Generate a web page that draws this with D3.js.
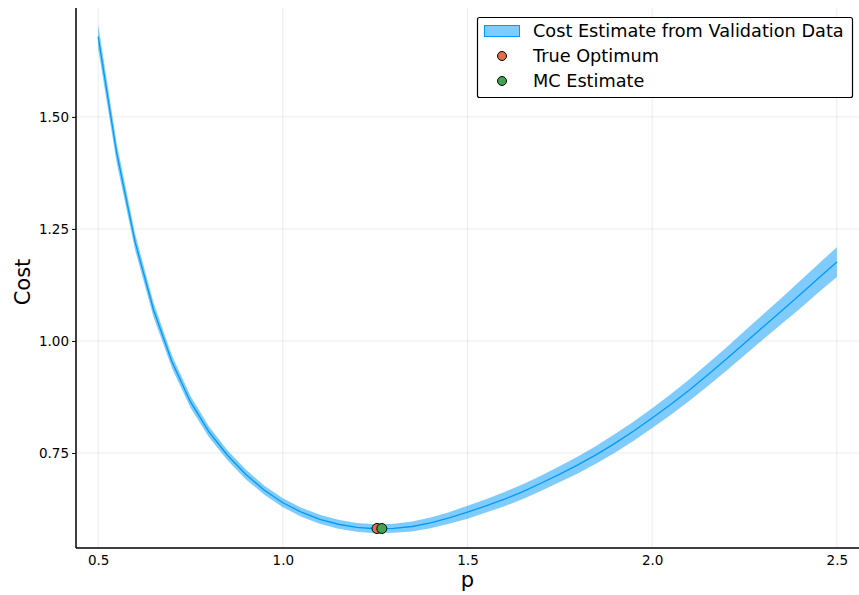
<!DOCTYPE html>
<html>
<head>
<meta charset="utf-8">
<script src="https://cdnjs.cloudflare.com/ajax/libs/d3/7.8.5/d3.min.js"></script>
<style>
    body { margin: 0; background: #fff; }
    svg { display: block; font-family: "DejaVu Sans", sans-serif; }
</style>
</head>
<body>
<script>
// sampled p values and estimated cost (mean) with half width of the band
var p_values = [0.50, 0.55, 0.60, 0.65, 0.70, 0.75, 0.80, 0.85, 0.90, 0.95,
    1.00, 1.05, 1.10, 1.15, 1.20, 1.25, 1.30, 1.35, 1.40, 1.45,
    1.50, 1.55, 1.60, 1.65, 1.70, 1.75, 1.80, 1.85, 1.90, 1.95,
    2.00, 2.05, 2.10, 2.15, 2.20, 2.25, 2.30, 2.35, 2.40, 2.45, 2.50];
var cost_mean = [1.679, 1.420, 1.221, 1.069, 0.953, 0.864, 0.797, 0.745, 0.702, 0.667,
    0.639, 0.618, 0.602, 0.591, 0.584, 0.581, 0.582, 0.586, 0.594, 0.605,
    0.618, 0.632, 0.647, 0.664, 0.683, 0.703, 0.724, 0.747, 0.772, 0.799,
    0.828, 0.858, 0.890, 0.924, 0.959, 0.995, 1.031, 1.067, 1.103, 1.140, 1.176];
var cost_halfwidth = [0.027, 0.022, 0.018, 0.016, 0.014, 0.013, 0.012, 0.011, 0.011, 0.010,
    0.010, 0.010, 0.010, 0.010, 0.010, 0.010, 0.010, 0.011, 0.012, 0.013,
    0.0145, 0.015, 0.016, 0.0165, 0.017, 0.018, 0.019, 0.020, 0.021, 0.0215,
    0.022, 0.023, 0.024, 0.025, 0.026, 0.027, 0.028, 0.029, 0.031, 0.032, 0.033];

var true_optimum = [1.255, 0.5815];
var mc_estimate = [1.268, 0.5815];

var x_ticks = [0.5, 1.0, 1.5, 2.0, 2.5];
var y_ticks = [0.75, 1.00, 1.25, 1.50];
var legend_labels = ["Cost Estimate from Validation Data", "True Optimum", "MC Estimate"];

(function () {
    var width = 859,
        height = 595;
    var left = 76, right = 859, top = 8, bottom = 548;

    var blue = "#009AFA",
        orange = "#E36F47",
        green = "#3EA44E";

    var svg = d3.select("body")
        .append("svg")
        .attr("width", width)
        .attr("height", height);

    var x = d3.scaleLinear().domain([0.44, 2.56]).range([left, right]);
    var y = d3.scaleLinear().domain([0.538, 1.743]).range([bottom, top]);

    var data = p_values.map(function (p, i) {
        return {p: p, m: cost_mean[i], h: cost_halfwidth[i]};
    });

    // grid
    svg.append("g")
        .selectAll("line")
        .data(x_ticks)
        .enter().append("line")
        .attr("x1", function (d) { return x(d); })
        .attr("x2", function (d) { return x(d); })
        .attr("y1", top)
        .attr("y2", bottom)
        .attr("stroke", "#000")
        .attr("stroke-opacity", 0.08)
        .attr("stroke-width", 1);

    svg.append("g")
        .selectAll("line")
        .data(y_ticks)
        .enter().append("line")
        .attr("x1", left)
        .attr("x2", right)
        .attr("y1", function (d) { return y(d); })
        .attr("y2", function (d) { return y(d); })
        .attr("stroke", "#000")
        .attr("stroke-opacity", 0.08)
        .attr("stroke-width", 1);

    // band + line
    var area = d3.area()
        .x(function (d) { return x(d.p); })
        .y0(function (d) { return y(d.m - d.h); })
        .y1(function (d) { return y(d.m + d.h); });

    svg.append("path")
        .datum(data)
        .attr("d", area)
        .attr("fill", blue)
        .attr("fill-opacity", 0.5);

    var line = d3.line()
        .x(function (d) { return x(d.p); })
        .y(function (d) { return y(d.m); });

    svg.append("path")
        .datum(data)
        .attr("d", line)
        .attr("fill", "none")
        .attr("stroke", blue)
        .attr("stroke-width", 1.3);

    // optimum markers
    svg.append("g")
        .selectAll("circle")
        .data([{v: true_optimum, c: orange}, {v: mc_estimate, c: green}])
        .enter().append("circle")
        .attr("cx", function (d) { return x(d.v[0]); })
        .attr("cy", function (d) { return y(d.v[1]); })
        .attr("r", 5)
        .attr("fill", function (d) { return d.c; })
        .attr("stroke", "#000")
        .attr("stroke-width", 1);

    // axes
    var xAxis = svg.append("g")
        .attr("transform", "translate(0," + bottom + ")")
        .call(d3.axisBottom(x).tickValues(x_ticks).tickFormat(d3.format(".1f")).tickSize(0).tickPadding(7));
    var yAxis = svg.append("g")
        .attr("transform", "translate(" + left + ",0)")
        .call(d3.axisLeft(y).tickValues(y_ticks).tickFormat(d3.format(".2f")).tickSize(4).tickPadding(3));

    [xAxis, yAxis].forEach(function (a) {
        a.select(".domain").remove();
        a.selectAll("text")
            .attr("font-family", "DejaVu Sans")
            .attr("font-size", 13.5)
            .attr("fill", "#000");
        a.selectAll(".tick line").attr("stroke", "#000");
    });

    svg.append("line")
        .attr("x1", left).attr("x2", left)
        .attr("y1", top).attr("y2", bottom)
        .attr("stroke", "#000").attr("stroke-width", 1.5);
    svg.append("line")
        .attr("x1", left).attr("x2", right)
        .attr("y1", bottom).attr("y2", bottom)
        .attr("stroke", "#000").attr("stroke-width", 1.5);

    svg.append("text")
        .attr("x", (left + right) / 2)
        .attr("y", 587)
        .attr("text-anchor", "middle")
        .attr("font-size", 21)
        .text("p");

    svg.append("text")
        .attr("transform", "translate(29.5," + 282 + ") rotate(-90)")
        .attr("text-anchor", "middle")
        .attr("font-size", 21)
        .text("Cost");

    // legend
    var lg = svg.append("g");
    lg.append("rect")
        .attr("x", 477.5).attr("y", 17.5)
        .attr("width", 375).attr("height", 80)
        .attr("rx", 2)
        .attr("fill", "#fff")
        .attr("stroke", "#000")
        .attr("stroke-width", 1.2);

    lg.append("rect")
        .attr("x", 484.5).attr("y", 25.5)
        .attr("width", 35).attr("height", 11)
        .attr("fill", blue).attr("fill-opacity", 0.5)
        .attr("stroke", blue).attr("stroke-width", 1);

    lg.selectAll("circle")
        .data([orange, green])
        .enter().append("circle")
        .attr("cx", 502)
        .attr("cy", function (d, i) { return 56 + i * 25; })
        .attr("r", 4.5)
        .attr("fill", function (d) { return d; })
        .attr("stroke", "#000")
        .attr("stroke-width", 1);

    lg.selectAll("text")
        .data(legend_labels)
        .enter().append("text")
        .attr("x", 533)
        .attr("y", function (d, i) { return 31 + i * 25; })
        .attr("dy", "0.35em")
        .attr("font-size", 17.7)
        .attr("fill", "#000")
        .text(function (d) { return d; });
}());
</script>
</body>
</html>
